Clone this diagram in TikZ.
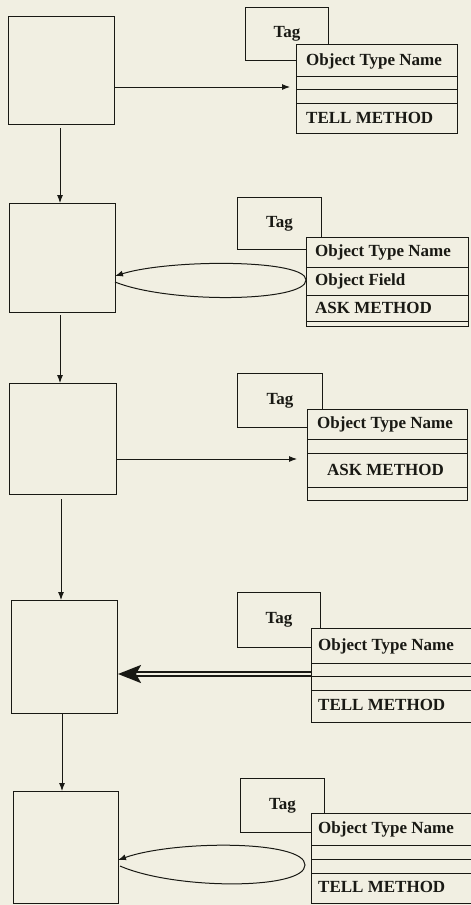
\documentclass[tikz,border=0pt]{standalone}
\usepackage{fontspec}
\setmainfont{Liberation Serif}
\usetikzlibrary{arrows.meta}
\definecolor{paper}{RGB}{241,239,226}
\definecolor{ink}{RGB}{25,25,20}
\begin{document}
\begin{tikzpicture}[x=1pt,y=-1pt,
  proc/.style={draw=ink,line width=1pt,fill=paper,anchor=north west,inner sep=0pt},
  tagbox/.style={draw=ink,line width=1pt,fill=paper,anchor=north west,inner sep=0pt,
     text=ink,font=\fontsize{17}{17}\selectfont\bfseries},
  cls/.style={draw=ink,line width=1pt,fill=paper,anchor=north west,inner sep=0pt},
  row/.style={draw=ink,line width=1pt},
  lbl/.style={anchor=west,inner sep=0pt,text=ink,font=\fontsize{17}{17}\selectfont\bfseries},
  flow/.style={draw=ink,line width=0.9pt,-{Latex[length=8pt,width=6pt]}},
  loop/.style={draw=ink,line width=1pt,-{Latex[length=8pt,width=6pt]}},
  dbl/.style={draw=ink,double=paper,double distance=2pt,line width=2.4pt,
     -{Stealth[length=23pt,width=18pt,inset=5pt]}}
]
\fill[paper] (0,0) rectangle (471,905);
\useasboundingbox (0,0) rectangle (471,905);

% ---------- panel 1 ----------
\node[proc,minimum width=106pt,minimum height=108pt] (b1) at (8,16) {};
\node[tagbox,minimum width=83pt,minimum height=53pt] (t1) at (245,7) {Tag};
\node[cls,minimum width=161pt,minimum height=89pt] (c1) at (296,44) {};
\draw[row] (296,76) -- (457,76) (296,89) -- (457,89) (296,103) -- (457,103);
\node[lbl] (c1n) at (306,61) {Object Type Name};
\node[lbl] (c1m) at (306,118) {TELL METHOD};
\coordinate (a1) at (296,87);
\draw[flow] (b1.east |- a1) -- ([xshift=-6pt]a1);

% ---------- panel 2 ----------
\node[proc,minimum width=106pt,minimum height=109pt] (b2) at (9,203) {};
\node[tagbox,minimum width=84pt,minimum height=52pt] (t2) at (237,197) {Tag};
\node[cls,minimum width=162pt,minimum height=89pt] (c2) at (306,237) {};
\draw[row] (306,267) -- (468,267) (306,295) -- (468,295) (306,321) -- (468,321);
\node[lbl] (c2n) at (315,252) {Object Type Name};
\node[lbl] (c2f) at (315,281) {Object Field};
\node[lbl] (c2m) at (315,308) {ASK METHOD};
\coordinate (l2a) at (115,282);
\coordinate (l2b) at (306,280);
\coordinate (l2c) at (115,276);
\draw[loop] (l2a) .. controls (170,304) and (306,302) .. (l2b)
   .. controls (306,259) and (170,259) .. (l2c);

\coordinate (v1) at (60,128);
\draw[flow] (v1) -- (v1 |- b2.north);

% ---------- panel 3 ----------
\node[proc,minimum width=107pt,minimum height=111pt] (b3) at (9,383) {};
\node[tagbox,minimum width=85pt,minimum height=54pt] (t3) at (237,373) {Tag};
\node[cls,minimum width=160pt,minimum height=91pt] (c3) at (307,409) {};
\draw[row] (307,439) -- (467,439) (307,453) -- (467,453) (307,487) -- (467,487);
\node[lbl] (c3n) at (317,424) {Object Type Name};
\node[lbl] (c3m) at (327,470) {ASK METHOD};
\coordinate (a3) at (307,459);
\draw[flow] (b3.east |- a3) -- ([xshift=-10pt]a3);

\coordinate (v2) at (60,315);
\draw[flow] (v2) -- (v2 |- b3.north);

% ---------- panel 4 ----------
\node[proc,minimum width=106pt,minimum height=113pt] (b4) at (11,600) {};
\node[tagbox,minimum width=83pt,minimum height=55pt] (t4) at (237,592) {Tag};
\node[cls,minimum width=170pt,minimum height=94pt] (c4) at (311,628) {};
\draw[row] (311,663) -- (481,663) (311,676) -- (481,676) (311,690) -- (481,690);
\node[lbl] (c4n) at (318,646) {Object Type Name};
\node[lbl] (c4m) at (318,705) {TELL METHOD};
\coordinate (a4) at (311,674);
\draw[dbl] (a4) -- (b4.east |- a4);

\coordinate (v3) at (61,499);
\draw[flow] (v3) -- (v3 |- b4.north);

% ---------- panel 5 ----------
\node[proc,minimum width=105pt,minimum height=112pt] (b5) at (13,791) {};
\node[tagbox,minimum width=84pt,minimum height=54pt] (t5) at (240,778) {Tag};
\node[cls,minimum width=170pt,minimum height=90pt] (c5) at (311,813) {};
\draw[row] (311,845) -- (481,845) (311,859) -- (481,859) (311,873) -- (481,873);
\node[lbl] (c5n) at (318,829) {Object Type Name};
\node[lbl] (c5m) at (318,887) {TELL METHOD};
\coordinate (l5a) at (120,866);
\coordinate (l5b) at (305,865);
\coordinate (l5c) at (118,860);
\draw[loop] (l5a) .. controls (175,890) and (305,890) .. (l5b)
   .. controls (305,840) and (175,840) .. (l5c);

\coordinate (v4) at (62,713);
\draw[flow] (v4) -- (v4 |- b5.north);
\end{tikzpicture}
\end{document}
